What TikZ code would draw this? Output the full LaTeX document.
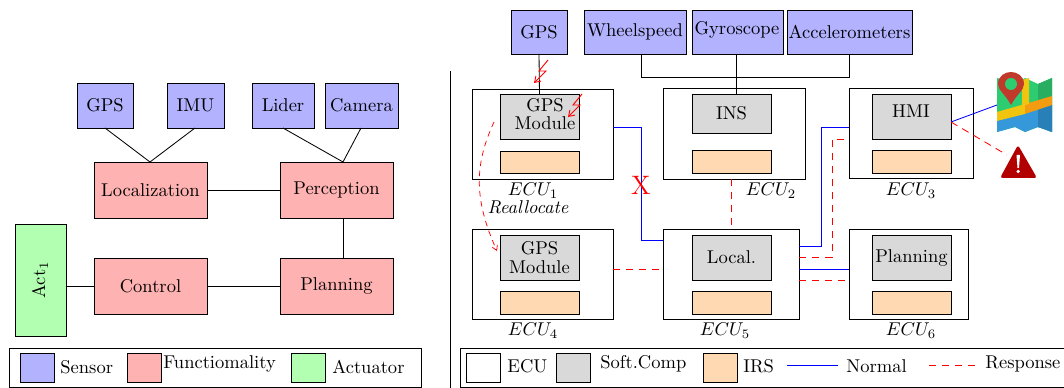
\documentclass[tikz,border=0pt]{standalone}
\usetikzlibrary{arrows.meta}
\definecolor{mg}{HTML}{2ECC71}\definecolor{mgd}{HTML}{27AE60}
\definecolor{mb}{HTML}{3498DB}\definecolor{mbd}{HTML}{2980B9}
\definecolor{my}{HTML}{F1C40F}\definecolor{mo}{HTML}{F39C12}
\definecolor{mp}{HTML}{C0392B}
\tikzset{
 sensor/.style={draw,fill=blue!30},
 func/.style={draw,fill=red!30},
 actu/.style={draw,fill=green!30},
 ecu/.style={draw,fill=white},
 soft/.style={draw,fill=gray!30},
 irs/.style={draw,fill=orange!30},
 link/.style={draw=black,line width=.45pt},
 norm/.style={draw=blue,line width=.45pt},
 resp/.style={draw=red,dashed,line width=.45pt,dash pattern=on 4pt off 3pt},
 bolt/.style={draw=red,line width=.5pt,-{Straight Barb[length=3pt,width=4pt]}},
 lab/.style={inner sep=0pt,align=center},
}
% name, style, x1,y1,x2,y2, text  (pixel box)
\newcommand{\bx}[7]{%
 \pgfmathsetmacro{\cxx}{(#3+#5)/2}\pgfmathsetmacro{\cyy}{(#4+#6)/2}%
 \pgfmathsetmacro{\www}{(#5-#3)*0.54}\pgfmathsetmacro{\hhh}{(#6-#4)*0.54}%
 \node[#2,inner sep=0pt,outer sep=0pt,align=center,minimum width=\www pt,minimum height=\hhh pt] (#1) at (\cxx,\cyy) {#7};}
\begin{document}
\begin{tikzpicture}[x=0.54pt,y=-0.54pt,line width=.45pt]
\useasboundingbox (0,0) rectangle (1064,388);
\clip (0,0) rectangle (1064,388);
% left part
\bx{lgps}{sensor}{77}{83}{133}{128}{GPS}
\bx{limu}{sensor}{167}{83}{224}{128}{IMU}
\bx{llid}{sensor}{252}{83}{314}{128}{Lider}
\bx{lcam}{sensor}{325}{83}{398}{128}{Camera}
\bx{lloc}{func}{94}{162}{207}{218}{Localization}
\bx{lper}{func}{280}{162}{393}{218}{Perception}
\bx{lctl}{func}{94}{258}{207}{314}{Control}
\bx{lpla}{func}{280}{258}{393}{314}{Planning}
\bx{lact}{actu}{15}{224}{66}{336}{}
\node[lab,rotate=90] (lacttext) at (40,280) {Act$_1$};
\coordinate (jl) at (150,162);
\coordinate (jp) at (343,162);
\draw[link] (105,128) -- (jl) -- (195,128);
\draw[link] (283,128) -- (jp) -- (361,128);
\draw[link] (lloc.east) -- (lper.west);
\draw[link] (343,218) -- (343,258);
\draw[link] (lctl.east) -- (lpla.west);
\draw[link] (lact.east |- lctl.west) -- (lctl.west);
\draw[link] (450,71) -- (450,388);
% left legend
\bx{lleg}{ecu}{9}{348}{421}{387}{}
\bx{ls1}{sensor}{20}{353}{54}{382}{}
\bx{ls2}{func}{127}{353}{161}{382}{}
\bx{ls3}{actu}{291}{353}{325}{382}{}
\node[lab,anchor=west] (lt1) at (60,367) {Sensor};
\node[lab,anchor=west] (lt2) at (163,364) {Functiomality};
\node[lab,anchor=west] (lt3) at (332,367) {Actuator};
% right part: sensors
\bx{rgps}{sensor}{511}{10}{567}{54}{GPS}
\bx{rwhe}{sensor}{584}{10}{686}{54}{Wheelspeed}
\bx{rgyr}{sensor}{692}{10}{783}{54}{}
\node[lab] (rgyrt) at (737,30) {Gyroscope};
\bx{racc}{sensor}{787}{10}{912}{54}{Accelerometers}
% ECUs
\bx{e1}{ecu}{472}{89}{613}{179}{}
\bx{e2}{ecu}{663}{88}{805}{179}{}
\bx{e3}{ecu}{849}{88}{973}{178}{}
\bx{e4}{ecu}{472}{229}{613}{319}{}
\bx{e5}{ecu}{663}{229}{799}{319}{}
\bx{e6}{ecu}{849}{229}{968}{319}{}
\bx{s1}{soft}{500}{94}{579}{139}{}
\bx{s2}{soft}{692}{94}{771}{133}{INS}
\bx{s3}{soft}{872}{94}{951}{139}{}
\bx{s4}{soft}{500}{235}{579}{280}{GPS\\[-2pt]Module}
\bx{s5}{soft}{692}{235}{771}{280}{Local.}
\bx{s6}{soft}{872}{235}{951}{280}{Planning}
\node[lab] (s1t) at (545,114) {GPS\\[-2pt]Module};
\node[lab] (s3t) at (911,111) {HMI};
\bx{i1}{irs}{500}{151}{579}{173}{}
\bx{i2}{irs}{692}{150}{771}{173}{}
\bx{i3}{irs}{872}{150}{951}{173}{}
\bx{i4}{irs}{500}{291}{579}{314}{}
\bx{i5}{irs}{692}{291}{771}{314}{}
\bx{i6}{irs}{872}{291}{951}{314}{}
\node[lab] (n1) at (533,191) {$ECU_1$};
\node[lab] (n2) at (771,191) {$ECU_2$};
\node[lab] (n3) at (911,191) {$ECU_3$};
\node[lab] (n4) at (533,331) {$ECU_4$};
\node[lab] (n5) at (725,331) {$ECU_5$};
\node[lab] (n6) at (911,331) {$ECU_6$};
\node[lab] (realloc) at (528,207) {\textit{Reallocate}};
% sensor wiring
\draw[link] (rgps.south) -- (s1.north);
\coordinate (b1) at (641,77); \coordinate (b2) at (849,77);
\draw[link] (rwhe.south -| b1) -- (b1) -- (b2) -- (racc.south -| b2);
\draw[link] (736,54) -- (736,94);
% network
\coordinate (a1) at (641,127); \coordinate (a2) at (641,240);
\draw[norm] (e1.east |- a1) -- (a1) -- (a2) -- (e5.west |- a2);
\coordinate (c1) at (821,246); \coordinate (c2) at (821,127);
\draw[norm] (e5.east |- c1) -- (c1) -- (c2) -- (e3.west |- c2);
\coordinate (d1) at (832,257); \coordinate (d2) at (832,139);
\draw[resp] (e5.east |- d1) -- (d1) -- (d2) -- (e3.west |- d2);
\coordinate (f1) at (820,269); \coordinate (f2) at (820,280);
\draw[norm] (e5.east |- f1) -- (e6.west |- f1);
\draw[resp] (e5.east |- f2) -- (e6.west |- f2);
\coordinate (g1) at (640,269);
\draw[resp] (e4.east |- g1) -- (e5.west |- g1);
\coordinate (h1) at (731,200);
\draw[resp] (h1 |- e2.south) -- (h1 |- e5.north);
\node[lab,text=red,font=\Large] (xx) at (641,185) {X};
% reallocate arrow
\coordinate (r1) at (494,122); \coordinate (r2) at (497,251);
\draw[red,densely dashed,line width=.4pt,dash pattern=on 3pt off 2.5pt,-{Straight Barb[length=2.5pt,width=3pt]}] (r1) .. controls (474,165) and (474,200) .. (r2);
% bolts
\coordinate (bt1) at (548,60); \coordinate (bt2) at (534,83);
\draw[bolt] (bt1) -- (539,71) -- (546,71) -- (bt2);
\coordinate (bt3) at (582,94); \coordinate (bt4) at (568,117);
\draw[bolt] (bt3) -- (573,105) -- (580,105) -- (bt4);
% map icon
\coordinate (map) at (997,105); \coordinate (warn) at (1007,155);
\draw[norm] (951,122) -- (map);
\draw[resp] (951,122) -- (warn);
\fill[mg] (997,78) -- (1015,84) -- (1025,78) -- (1038,84) -- (1052,78) -- (1052,132) -- (1038,127) -- (1025,132) -- (1015,127) -- (997,132) -- cycle;
\fill[mgd] (1038,84) -- (1052,78) -- (1052,108) -- (1038,112) -- cycle;
\fill[mb] (997,120) -- (1015,116) -- (1025,112) -- (1052,108) -- (1052,132) -- (1038,127) -- (1025,132) -- (1015,127) -- (997,132) -- cycle;
\fill[mbd] (1038,108) -- (1052,105) -- (1052,132) -- (1038,127) -- cycle;
\fill[my] (997,112) -- (1025,104) -- (1025,114) -- (997,121) -- cycle;
\fill[mo] (1025,104) -- (1052,96) -- (1052,105) -- (1025,114) -- cycle;
\fill[my] (1022,80) -- (1029,78) -- (1029,104) -- (1022,106) -- cycle;
\fill[mp] (1011,105) .. controls (1005,94) and (998,90) .. (998,84) .. controls (998,76) and (1005,72) .. (1011,72) .. controls (1017,72) and (1024,76) .. (1024,84) .. controls (1024,90) and (1017,94) .. (1011,105) -- cycle;
\fill[mg] (1011,84) circle (6);
% warning icon
\fill[red!70!black,rounded corners=1.5pt] (1018,145) -- (1037,178) -- (1000,178) -- cycle;
\fill[white] (1016.5,155) -- (1020,155) -- (1019,168) -- (1017.5,168) -- cycle;
\fill[white] (1018.2,171.5) circle (1.8);
% right legend
\bx{rleg}{ecu}{460}{348}{1070}{387}{}
\bx{ls4}{ecu}{466}{353}{500}{382}{}
\bx{ls5}{soft}{556}{353}{590}{382}{}
\bx{ls6}{irs}{703}{353}{737}{382}{}
\node[lab,anchor=west] (lt4) at (507,366) {ECU};
\node[lab,anchor=west] (lt5) at (600,364) {Soft.Comp};
\node[lab,anchor=west] (lt6) at (743,366) {IRS};
\coordinate (ln1) at (787,365); \coordinate (ln2) at (838,365);
\draw[norm] (ln1) -- (ln2);
\node[lab,anchor=west] (lt7) at (846,366) {Normal};
\coordinate (ln3) at (929,365); \coordinate (ln4) at (980,365);
\draw[resp] (ln3) -- (ln4);
\node[lab,anchor=west] (lt8) at (985,364) {Response};
\end{tikzpicture}
\end{document}
